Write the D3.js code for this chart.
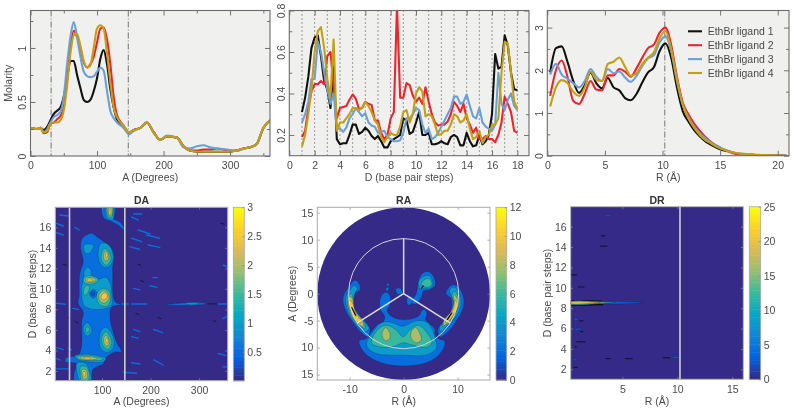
<!DOCTYPE html>
<html><head><meta charset="utf-8">
<script src="https://cdn.jsdelivr.net/npm/d3@7"></script>
<style>
html,body{margin:0;padding:0;background:#fff}
svg{display:block;filter:blur(0.5px)}
text{font-family:"Liberation Sans",Arial,sans-serif;fill:#4a4a4a}
</style></head><body>
<script>
// ---------- line profiles ----------
const seriesNames = ["EthBr ligand 1","EthBr ligand 2","EthBr ligand 3","EthBr ligand 4"];
const aGrid = [0,10,15,20,25,30,35,40,45,50,55,60,65,70,75,80,85,90,95,100,105,110,115,120,125,130,140,148,155,165,175,185,195,205,220,230,240,250,260,270,280,290,300,310,320,330,340,350,360];
const aBlack = [.26,.25,.26,.24,.27,.33,.39,.42,.45,.55,.72,.88,.88,.75,.63,.52,.5,.52,.6,.72,.9,.98,.85,.62,.45,.34,.27,.21,.24,.26,.31,.22,.15,.18,.17,.09,.05,.04,.04,.04,.04,.04,.04,.05,.07,.08,.11,.26,.33];
const aRed = [.26,.25,.26,.21,.22,.3,.31,.34,.37,.45,.7,1.0,1.16,1.1,1.0,.87,.82,.85,.92,1.05,1.18,1.19,1.08,.85,.55,.38,.28,.22,.24,.26,.31,.22,.15,.18,.17,.09,.05,.05,.06,.06,.07,.06,.05,.05,.07,.08,.11,.26,.33];
const aBlue = [.26,.25,.26,.22,.25,.31,.36,.38,.41,.55,.85,1.1,1.24,1.1,.92,.78,.74,.73,.74,.78,.82,.79,.6,.42,.35,.31,.26,.2,.23,.26,.31,.22,.15,.19,.17,.08,.07,.09,.1,.08,.07,.065,.055,.05,.065,.08,.11,.26,.33];
const aYellow = [.26,.25,.26,.22,.23,.3,.31,.31,.33,.42,.65,.95,1.12,1.13,1.02,.88,.82,.84,1.0,1.18,1.21,1.18,.95,.68,.45,.36,.28,.22,.24,.26,.31,.22,.15,.18,.17,.09,.05,.04,.04,.04,.04,.04,.04,.05,.07,.08,.11,.26,.33];

const dGrid = d3.range(1,18.01,0.25);
const dBlack = [.31,.38,.48,.62,.67,.68,.58,.46,.42,.33,.53,.18,.155,.16,.16,.2,.25,.25,.205,.215,.235,.22,.195,.18,.195,.17,.14,.14,.17,.18,.19,.2,.28,.27,.205,.215,.26,.31,.2,.2,.21,.155,.155,.16,.17,.16,.155,.19,.2,.19,.15,.15,.21,.17,.145,.15,.2,.155,.17,.2,.3,.59,.52,.53,.68,.63,.5,.42,.415];
const dRed = [.19,.22,.33,.41,.445,.445,.46,.445,.58,.6,.43,.28,.33,.335,.34,.37,.395,.375,.325,.33,.36,.35,.345,.27,.27,.21,.18,.2,.28,.31,.82,.38,.38,.45,.44,.39,.36,.38,.35,.43,.36,.3,.26,.245,.25,.25,.265,.3,.36,.34,.31,.35,.28,.25,.21,.235,.18,.18,.195,.18,.18,.165,.2,.26,.385,.35,.31,.22,.21];
const dBlue = [.26,.3,.36,.47,.47,.65,.6,.5,.42,.35,.4,.23,.23,.215,.235,.28,.3,.33,.31,.29,.305,.26,.245,.24,.21,.215,.22,.19,.18,.17,.17,.175,.21,.28,.28,.3,.33,.32,.25,.21,.23,.18,.19,.21,.24,.27,.3,.33,.385,.385,.35,.36,.395,.34,.29,.28,.33,.26,.24,.23,.22,.25,.5,.35,.32,.37,.4,.34,.32];
const dYellow = [.145,.2,.3,.42,.6,.7,.72,.62,.47,.38,.66,.22,.26,.26,.28,.3,.33,.33,.32,.33,.36,.34,.31,.27,.25,.19,.165,.19,.21,.2,.2,.24,.31,.32,.26,.3,.4,.43,.41,.29,.3,.29,.25,.2,.205,.22,.22,.25,.3,.29,.26,.27,.3,.23,.18,.19,.22,.16,.19,.2,.25,.25,.28,.5,.65,.64,.5,.36,.325];

const rGrid = d3.range(0.25,21,0.5);
const rBlack = [1.95,2.52,2.56,2.2,1.75,1.47,1.65,1.95,1.7,1.58,1.82,1.6,1.53,1.35,1.3,1.45,1.72,1.95,2.07,2.45,2.63,2.3,1.6,1.05,.8,.6,.45,.33,.25,.18,.13,.1,.06,.04,.03,.02,.015,.01,.01,.005,.005,0];
const rRed = [1.4,2.0,2.23,1.85,1.28,1.21,1.45,1.75,1.55,1.53,1.88,1.88,2.03,1.97,1.85,2.05,2.3,2.52,2.6,2.88,3.0,2.6,1.85,1.25,.97,.75,.58,.43,.31,.23,.15,.1,.05,.03,.025,.02,.015,.01,.01,.005,.005,0];
const rBlue = [1.9,2.15,1.9,1.8,1.7,1.6,1.75,2.03,1.85,1.75,2.03,1.93,1.97,1.83,1.73,1.87,2.1,2.28,2.35,2.65,2.8,2.45,1.75,1.2,.9,.68,.52,.4,.3,.22,.16,.11,.07,.05,.03,.02,.015,.01,.01,.005,.005,0];
const rYellow = [1.15,1.6,1.77,1.7,1.5,1.4,1.6,1.97,1.78,1.75,2.15,2.2,2.3,2.08,1.87,1.93,2.15,2.3,2.42,2.75,2.92,2.5,1.8,1.2,.87,.65,.48,.36,.28,.2,.15,.1,.07,.05,.04,.03,.02,.015,.01,.01,.005,.005];

const markerA = [31,147];
const markerR = [10.2];
const markerD = d3.range(1,19);
const lineColors = ["#111111","#e8262c","#6c9fd8","#c29f14"];

// ---------- DA map: contour outlines [A, D], lowest level first ----------
const daContours = [
 [0.5,[[78.8,15.42],[89,15.09],[106,14.54],[120,13.96],[125,13.14],[122,12.17],[122,11.36],[123,9.38],[128,8.7],[140,8.46],[120,8.24],[116.5,7.26],[120,6.29],[130,4.83],[140,3.85],[126.8,3.85],[106,3.2],[102.7,2.7],[82,2.2],[78.8,1.2],[78,.9],[44,.9],[44,2.07],[49,2.7],[23.7,2.9],[27,3.3],[51,3.53],[58,4.5],[58,6.78],[61.4,7.75],[51,8.56],[53,9.4],[53,10.87],[55,11.68],[61.4,12.65],[56,13.96],[59.4,14.93]]],
 [0.5,[[101,17.95],[127,17.95],[127,17.37],[125,16.8],[136,16.55],[145,16],[145,15.74],[133.6,16.2],[120,16.55],[106,16.8],[100,17.3]]],
 [0.5,[[229.8,8.46],[274.4,8.65],[291.6,8.72],[315.6,8.56],[288,8.4],[253.8,8.4]]],
 [1,[[271,8.6],[288,8.65],[302,8.56],[288,8.46],[274.4,8.5]]],
 [1,[[48,2.74],[65,2.8],[75,1.93],[77,1.12],[55,1.05],[48,1.93]]],
 [1,[[44,3.46],[68,3.65],[96,3.46],[108,3.23],[103,2.9],[75,2.87],[51,3.07]]],
 [1,[[108,6.25],[118,5.83],[125,4.85],[122,4.2],[111,3.81],[97,4.2],[94.5,5.18],[99,5.99]]],
 [1,[[70,6.7],[77,6.3],[79,5.83],[70,5.4],[62,5.83],[62,6.38]]],
 [1,[[70,12.1],[77,11.84],[79,11.26],[92,10.93],[108,11.13],[117,10.54],[120,9.57],[120,8.43],[108,8.1],[85.5,8],[65,8.27],[60,8.75],[58,10.2],[63,11.03],[63,11.68]]],
 [0.5,[[82,9.95],[90,9.57],[83,9.08],[74,9.5]]],
 [0.25,[[81,9.73],[86,9.53],[81,9.3],[76.5,9.53]]],
 [1,[[98,14.44],[111,14.38],[120,13.79],[123,12.98],[116,12.23],[104,12.1],[94.5,12.65],[92,13.63]]],
 [1,[[63,14.28],[82,14.28],[81,13.95],[74,13.47],[65,13.53]]],
 [1,[[108,17.95],[123,17.95],[125,17.2],[120.5,16.7],[111,16.85],[107,17.4]]],
 [1.5,[[56,2.42],[67,2.42],[74,1.7],[70,1.05],[58,1.05],[55,1.77]]],
 [1.5,[[48,3.39],[72,3.52],[96,3.32],[103,3.13],[75,3],[51,3.16]]],
 [1.5,[[108,5.83],[116,5.34],[120,4.69],[113,4.1],[103,4.37],[99,5.18]]],
 [1.5,[[70,6.3],[74,6.05],[70,5.73],[66,5.99]]],
 [1.5,[[63,11.13],[79,11.26],[92,10.93],[85.5,10.54],[70,10.47],[62,10.7]]],
 [1.5,[[70,10.38],[74,10.15],[70,9.57],[63,9.4],[62,9.89]]],
 [1.5,[[104,10.05],[115,9.73],[118,9.08],[111,8.33],[96,8.43],[89,9.08],[92,9.73]]],
 [1.5,[[106,13.95],[116,13.47],[118,12.82],[108,12.3],[99,12.82],[100,13.63]]],
 [1.5,[[110,17.95],[122,17.95],[122,17.3],[118,16.88],[111.6,17.1]]],
 [2,[[59,2.15],[67,2.09],[70,1.44],[63,1.18],[58,1.7]]],
 [2,[[55,3.32],[75,3.39],[92,3.23],[75,3.07],[58,3.16]]],
 [2,[[108,5.5],[114,5.02],[114,4.53],[107.5,4.46],[103,5.02]]],
 [2,[[67,11.03],[79,11.09],[88,10.87],[79,10.64],[67,10.7]]],
 [2,[[104,9.83],[113,9.5],[114,8.98],[104,8.59],[94.5,8.92],[94.5,9.5]]],
 [2,[[108,13.73],[114,13.3],[112,12.82],[106,12.75],[103,13.3]]],
 [2,[[113,17.85],[120.5,17.85],[120,17.2],[115,17.1]]],
 [2.5,[[61,1.93],[65,1.93],[66,1.5],[63,1.44]]],
 [2.5,[[61,3.29],[75,3.29],[76.5,3.16],[63,3.2]]],
 [2.5,[[109.5,5.24],[113,4.92],[111,4.69],[107,4.95]]],
 [2.5,[[70,10.93],[79,10.93],[82,10.8],[70,10.77]]],
 [2.5,[[106,9.63],[111,9.4],[108,8.98],[99,8.98],[99,9.4]]],
 [2.5,[[109,13.56],[112,13.3],[109.5,13.04],[107,13.3]]],
 [2.5,[[115,17.7],[118,17.7],[118,17.3],[115,17.2]]]
];
// short diagonal streaks [A1, D1, A2, D2]
const daStreaks = [[175,15.74,199,15.35],[192,15.25,218,14.93],[161,14.93,182,14.6],[158,14.1,177,13.86],[195,14.28,219,14.05],[13,17.2,30.5,17.1],[5,16.4,20,16.13],[5,15.5,20,15.25],[44,16,53,15.74],[161,17,175,16.7],[165,17.3,182,17.3],[164.5,10.05,178,9.9],[199,10.3,213,10.15],[6.5,8.6,24,8.5],[39.5,8.1,51,8],[140.5,8.53,154,8.53],[161,8.53,192,8.53],[340,8.53,357,8.53],[3,4.3,20,4.1],[5,3.23,13,3.07],[30.5,4.2,37.4,4.05],[164.5,6.05,178,5.83],[206,6.05,225,5.73],[161,5.34,175,5.18],[161,2.8,178,2.68],[207,3.07,226,2.58],[144,1.87,171,1.77],[5,2.2,30.5,2.2],[340,3.7,355,3.5],[349,2.4,357,2.4],[349,7.1,357,7.3],[350,12.3,357,12.2],[205,11.1,214,11.1]];
const daSpecks = [[318,8.53,335,8.53],[180,10.8,186,10.7],[170,7.6,176,7.5],[215,7.2,221,7.1],[20,12.4,26,12.3],[30,7.2,35,7.1],[45,6.8,50,6.7],[175,12.4,180,12.3],[345,16.4,352,16.3],[330,6.9,335,6.8]];
const daLines = [33,147];

// ---------- RA map: contour outlines [R, A] ----------
const raContours = [
 [2,[[-8.24,-8.73],[-6.89,-8.3],[-5.97,-7.07],[-4.74,-5.66],[-3.81,-5.23],[-3.51,-4.18],[-4.24,-3.08],[-4.43,-1.54],[-3.94,-.12],[-3.08,.25],[-2.46,-.62],[-2.58,-2.15],[-3.08,-3.08],[-2.28,-4.18],[-.43,-4.8],[1.72,-4.61],[2.95,-4],[3.26,-3.2],[3.87,-2.95],[4.3,-3.69],[4.06,-4.8],[4.67,-5.54],[5.72,-6.46],[5.84,-7.69],[6.64,-8.43],[7.56,-8.73],[7.56,-9.72],[6.33,-11.56],[3.87,-12.9],[-.12,-13.4],[-3.81,-12.9],[-6.58,-11.56],[-8,-9.84]]],
 [2,[[-9.96,1.54],[-9.04,2.46],[-8.24,1.85],[-8.12,.62],[-9.35,0],[-9.35,-2.15],[-8.61,-4],[-7.2,-5.23],[-6.27,-6.46],[-6.58,-8],[-7.81,-7.26],[-9.66,-4.92],[-10.89,-2.77],[-11.19,-.62]]],
 [2,[[8.18,.92],[9.1,1.66],[10.15,1.23],[11.07,-.62],[11.07,-2.46],[10.02,-4.61],[8.49,-6.77],[6.77,-8],[6.33,-6.77],[6.77,-5.84],[7.87,-4.61],[8.79,-3.08],[8.79,-.92],[7.87,0]]],
 [2,[[3.44,3.69],[4.49,4.12],[5.54,3.2],[5.84,1.54],[4.8,.74],[3.69,.49],[3.26,-.74],[2.03,-1.97],[1.41,-1.54],[2.34,0],[2.64,1.85],[2.95,2.95]]],
 [2,[[-3.2,1.8],[-2.7,1.9],[-2.9,1.3]]],
 [2,[[-3.4,1],[-2.7,1.1],[-3,.4]]],
 [2,[[-1.48,.86],[-.62,.98],[-.25,.12],[-1.05,-.12]]],
 [2,[[.62,-.92],[1.41,-.49],[1.6,-1.54],[.8,-2.15]]],
 [4,[[3.69,3.2],[4.67,3.38],[5.41,2.15],[5.1,1.11],[3.87,.92],[2.95,.92],[2.83,2.46]]],
 [4,[[-6.89,-9.35],[-5.66,-7.07],[-4.12,-5.41],[-2.58,-5.23],[-.12,-6.03],[2.34,-5.04],[4.49,-5.41],[5.84,-8.3],[6.03,-10.15],[4.18,-11.38],[-.12,-11.38],[-4.43,-11.25],[-6.27,-10.45]]],
 [4,[[-9.96,.62],[-9.16,1.54],[-8.61,.92],[-9.04,0],[-9.23,-2.15],[-8.43,-3.81],[-7.01,-5.41],[-6.4,-6.46],[-7.2,-7.07],[-8.43,-6.15],[-9.66,-4.61],[-10.58,-2.46],[-10.7,-.62]]],
 [4,[[8.49,.62],[9.23,1.23],[10.02,.62],[10.64,-1.23],[10.45,-2.77],[9.41,-4.61],[7.87,-6.15],[6.95,-7.07],[6.64,-6.27],[7.87,-5.04],[8.98,-3.38],[9.23,-1.54],[8.79,-.31]]],
 [6,[[3.87,2.58],[4.67,2.77],[5.23,1.85],[4.67,1.23],[3.69,1.35],[3.26,1.85]]],
 [6,[[-5.97,-9.1],[-4.74,-6.64],[-3.2,-5.84],[-1.35,-6.77],[-.12,-8],[1.11,-6.77],[2.64,-5.84],[4.18,-7.07],[5.23,-9.1],[4.18,-9.96],[1.72,-9.53],[-.12,-9.1],[-1.97,-9.84],[-4.43,-9.84]]],
 [6,[[-9.66,0],[-9.35,-.92],[-9.04,-3.38],[-7.2,-5.54],[-7.2,-6.46],[-8.12,-5.84],[-9.47,-4],[-10.27,-2.46],[-10.27,-.62]]],
 [6,[[8.98,0],[9.59,.31],[10.21,-1.23],[10.09,-2.58],[8.79,-4.61],[7.26,-6.15],[7.26,-5.41],[8.79,-3.69],[9.29,-1.85]]],
 [8,[[-3.32,-6.27],[-2.58,-7.26],[-2.58,-8.3],[-3.32,-8.73],[-3.94,-8],[-3.94,-7.07]]],
 [8,[[2.21,-6.27],[2.95,-7.26],[3.26,-8.61],[2.34,-9.1],[1.41,-8.3],[1.41,-7.07]]],
 [8,[[-10.3,-.7],[-9.6,-.7],[-9.1,-3],[-7.5,-5.2],[-7.5,-6.1],[-8.9,-5.2],[-10.1,-2.9]]],
 [8,[[9.3,-.1],[10,-1.1],[9.95,-2.6],[8.7,-4.8],[7.5,-5.9],[7.4,-5],[8.8,-3.3],[9.3,-1.8]]],
 [10,[[-10.15,-1.2],[-9.55,-1.6],[-8.8,-3.8],[-7.8,-5.2],[-8.3,-5.4],[-9.2,-4.4],[-9.95,-2.7]]],
 [10,[[9.5,-1.2],[10,-2.1],[9.3,-3.8],[8.3,-5.1],[7.7,-5.3],[8.9,-3.5],[9.35,-2.3]]]
];
const raDarkMarks = [[-9.6,-2.6,-8.9,-4],[8.9,-3.6,8.1,-4.8],[3.6,1.4,3.3,1]];
const raCircleRadius = 10.2;
const raSpokes = [[0,10.2],[-8.6,-5.4],[8.6,-5.4]];
const raDiskRadius = 16;

// ---------- DR map ----------
const drContours = [
 [2.5,[[9.3,3.1],[10,3.25],[10.6,3.3],[10.1,3.08]]],
 [2.5,[[.55,2.95],[.75,3],[.9,2.9],[.7,2.85]]],
 [2.5,[[.55,6.92],[.8,7],[1,6.88],[.75,6.8]]],
 [2.5,[[.7,5.9],[1.1,6.05],[1.35,6.05],[1.1,5.9],[.75,5.8]]],
 [2.5,[[3.4,17.1],[3.7,17.17],[3.95,17.1],[3.7,17.04]]],
 [1.5,[[1,10.08],[1.3,10.13],[1.55,10.08],[1.3,10.02]]]
];
const drDarkBand = [[.3,8.8],[1.6,8.8],[3.2,8.74],[3.4,8.52],[3.2,8.3],[1.6,8.25],[.3,8.25]];
const drSpindle = [
 [2.5,[[.3,8.66],[3,8.68],[5,8.66],[6.9,8.56],[5,8.42],[3,8.4],[.3,8.4]]],
 [10,[[.3,8.64],[3,8.64],[4.4,8.58],[3,8.46],[.3,8.42]]],
 [15,[[.3,8.62],[3,8.6],[3.6,8.54],[3,8.48],[.3,8.44]]],
 [20,[[.3,8.58],[2.6,8.57],[3,8.53],[2.6,8.5],[.3,8.47]]]
];
const drSpecks = [[3.1,15.1,3.4,15.1],[3,14.1,3.6,14.1],[.3,11.26,.85,11.26],[1,10.08,1.5,10.08],[1.1,6.75,1.4,6.75],[1.2,5.7,1.4,5.7],[.85,4.7,1.6,4.7],[.7,4.2,.8,4.2],[.6,2.2,.9,2.2],[3.5,3.05,3.9,3.05],[5.3,3.05,5.9,3.05],[8.7,3.15,9.3,3.12]];
const drLines = [10.24];

const parulaStops = ["#352a87","#0363e1","#1485d4","#06a7c6","#38b99e","#92bf73","#d9ba56","#fcce2e","#f9fb0e"];
const parula = d3.scaleLinear().domain(d3.range(9).map(i=>i/8)).range(parulaStops).clamp(true);

const W=798,H=411;
const svg=d3.select("body").append("svg").attr("width",W).attr("height",H);
svg.append("rect").attr("width",W).attr("height",H).attr("fill","#fff");
const defs=svg.append("defs");
let clipId=0;
const FS=10.5, GREY="#4a4a4a";

function linePanel(o){
  const x=d3.scaleLinear().domain(o.xd).range([o.l,o.r]);
  const y=d3.scaleLinear().domain(o.yd).range([o.b,o.t]);
  const id="c"+(clipId++);
  defs.append("clipPath").attr("id",id).append("rect").attr("x",o.l).attr("y",o.t).attr("width",o.r-o.l).attr("height",o.b-o.t);
  const g=svg.append("g");
  g.append("rect").attr("x",o.l).attr("y",o.t).attr("width",o.r-o.l).attr("height",o.b-o.t).attr("fill","#f0f0ef");
  const vis=g.append("g").attr("clip-path",`url(#${id})`);
  (o.markers||[]).forEach(m=>vis.append("line").attr("x1",x(m)).attr("x2",x(m)).attr("y1",o.t).attr("y2",o.b)
     .attr("stroke",o.markerColor||"#666").attr("stroke-width",o.markerWidth||.9).attr("stroke-dasharray",o.dash));
  const ln=d3.line().x((d,i)=>x(o.grid[i])).y(d=>y(d)).curve(o.curve);
  o.series.forEach((s,i)=>vis.append("path").attr("d",ln(s)).attr("fill","none").attr("stroke",lineColors[i]).attr("stroke-width",2.1).attr("stroke-linejoin","round"));
  const ax=(gen,tr,vals,len,lab)=>{
    const a=g.append("g").attr("transform",tr).call(gen.tickValues(vals).tickSize(len).tickFormat(lab?d3.format("~g"):""));
    a.select(".domain").remove();
    a.selectAll("line").attr("stroke","#666").attr("stroke-width",.9);
    return a;
  };
  const xa=ax(d3.axisBottom(x),`translate(0,${o.b})`,o.xMajor,-5,true);
  xa.selectAll("text").attr("font-size",FS).attr("y",6).attr("dy","0.71em").style("fill",GREY);
  ax(d3.axisTop(x),`translate(0,${o.t})`,o.xMajor,-5,false);
  if(o.xMinor){ax(d3.axisBottom(x),`translate(0,${o.b})`,o.xMinor,-3,false);ax(d3.axisTop(x),`translate(0,${o.t})`,o.xMinor,-3,false);}
  const ya=ax(d3.axisLeft(y),`translate(${o.l},0)`,o.yMajor,-5,true);
  ya.selectAll("text").attr("font-size",FS).attr("text-anchor","middle").attr("x",0).attr("dy",0)
    .attr("transform",`translate(${-o.yLabOff},0) rotate(-90)`).style("fill",GREY);
  ax(d3.axisRight(y),`translate(${o.r},0)`,o.yMajor,-5,false);
  if(o.yMinor){ax(d3.axisLeft(y),`translate(${o.l},0)`,o.yMinor,-3,false);ax(d3.axisRight(y),`translate(${o.r},0)`,o.yMinor,-3,false);}
  g.append("rect").attr("x",o.l).attr("y",o.t).attr("width",o.r-o.l).attr("height",o.b-o.t).attr("fill","none").attr("stroke","#6b6b6b").attr("stroke-width",1.1);
  g.append("text").attr("x",(o.l+o.r)/2).attr("y",181).attr("text-anchor","middle").attr("font-size",FS).text(o.xLabel);
  if(o.yLabel) g.append("text").attr("transform",`translate(${o.yLabX},${(o.t+o.b)/2}) rotate(-90)`).attr("text-anchor","middle").attr("font-size",FS).text(o.yLabel);
  return {x,y,g};
}

linePanel({l:30.5,r:270,t:10.5,b:156,xd:[0,360],yd:[0,1.347],grid:aGrid,series:[aBlack,aRed,aBlue,aYellow],curve:d3.curveMonotoneX,
  markers:markerA,dash:"6 2 1 2",xMajor:[0,100,200,300],xMinor:[50,150,250,350],yMajor:[0,.5,1],yMinor:[.25,.75,1.25],
  yLabOff:4.5,xLabel:"A (Degrees)",yLabel:"Molarity",yLabX:12});
linePanel({l:289.3,r:529,t:10.5,b:155.7,xd:[0,18.92],yd:[.1,.8],grid:dGrid,series:[dBlack,dRed,dBlue,dYellow],curve:d3.curveLinear,
  markers:markerD,markerColor:"#444",markerWidth:1,dash:"1 3",xMajor:d3.range(0,19,2),yMajor:[.2,.4,.6,.8],yMinor:[.3,.5,.7],
  yLabOff:4,xLabel:"D (base pair steps)"});
const p3=linePanel({l:547.3,r:789,t:10.5,b:155.7,xd:[0,20.98],yd:[0,3.4],grid:rGrid,series:[rBlack,rRed,rBlue,rYellow],curve:d3.curveMonotoneX,
  markers:markerR,dash:"6 2 1 2",xMajor:[0,5,10,15,20],yMajor:[0,1,2,3],yMinor:[.5,1.5,2.5],
  yLabOff:4,xLabel:"R (Å)"});
const legX=d3.scaleLinear().domain([0,1]).range([688,702]);
seriesNames.forEach((n,i)=>{
  const yy=31.3+i*13.9;
  p3.g.append("line").attr("x1",legX(0)).attr("x2",legX(1)).attr("y1",yy).attr("y2",yy).attr("stroke",lineColors[i]).attr("stroke-width",2.1);
  p3.g.append("text").attr("x",707.7).attr("y",yy+3.7).attr("font-size",FS).text(n);
});

function mapPanel(o){
  const x=d3.scaleLinear().domain(o.xd).range([o.l,o.r]);
  const y=d3.scaleLinear().domain(o.yd).range([o.b,o.t]);
  const id="c"+(clipId++);
  defs.append("clipPath").attr("id",id).append("rect").attr("x",o.l).attr("y",o.t).attr("width",o.r-o.l).attr("height",o.b-o.t);
  const g=svg.append("g");
  const base=g.append("g").attr("clip-path",`url(#${id})`);
  if(o.disk!==undefined){
    base.append("ellipse").attr("cx",x(0)).attr("cy",y(0)).attr("rx",x(o.disk)-x(0)).attr("ry",y(0)-y(o.disk)).attr("fill",parula(0));
  } else {
    base.append("rect").attr("x",o.l).attr("y",o.t).attr("width",o.r-o.l).attr("height",o.b-o.t).attr("fill",parula(0));
  }
  const col=v=>parula(v/o.max);
  const curve=d3.line().x(d=>x(d[0])).y(d=>y(d[1])).curve(d3.curveCatmullRomClosed.alpha(.5));
  const drawC=list=>list.forEach(([lev,pts])=>base.append("path").attr("d",curve(pts)).attr("fill",col(lev)).attr("stroke","#1c2340").attr("stroke-width",.45).attr("stroke-opacity",.6));
  const streak=(list,c,w)=>list.forEach(s=>base.append("line").attr("x1",x(s[0])).attr("y1",y(s[1])).attr("x2",x(s[2])).attr("y2",y(s[3])).attr("stroke",c).attr("stroke-width",w).attr("stroke-linecap","round"));
  o.draw({base,x,y,col,drawC,streak,curve});
  const tick=(gen,tr,vals,f)=>{
    const a=g.append("g").attr("transform",tr).call(gen.tickValues(vals).tickSize(-2.5).tickFormat(f));
    a.select(".domain").remove();
    a.selectAll("line").attr("stroke","#888").attr("stroke-width",.7);
    a.selectAll("text").attr("font-size",FS).style("fill",GREY);
    return a;
  };
  const plain=d=>String(d);
  tick(d3.axisBottom(x),`translate(0,${o.b})`,o.xt,plain).selectAll("text").attr("y",6).attr("dy","0.71em");
  tick(d3.axisLeft(y),`translate(${o.l},0)`,o.yt,o.yf||plain).selectAll("text").attr("x",-4);
  tick(d3.axisTop(x),`translate(0,${o.t})`,o.xt,"");
  tick(d3.axisRight(y),`translate(${o.r},0)`,o.yt,"");
  g.append("rect").attr("x",o.l).attr("y",o.t).attr("width",o.r-o.l).attr("height",o.b-o.t).attr("fill","none").attr("stroke","#aaa").attr("stroke-width",1);
  g.append("text").attr("x",(o.l+o.r)/2).attr("y",204).attr("text-anchor","middle").attr("font-size",10.5).attr("font-weight","bold").style("fill","#333").text(o.title);
  g.append("text").attr("x",(o.l+o.r)/2).attr("y",405).attr("text-anchor","middle").attr("font-size",FS).text(o.xLabel);
  g.append("text").attr("transform",`translate(${o.yLabX},${(o.t+o.b)/2}) rotate(-90)`).attr("text-anchor","middle").attr("font-size",FS).text(o.yLabel);
  const cy=d3.scaleLinear().domain([0,o.max]).range([o.b,o.t]);
  const n=64;
  const cb=g.append("g");
  d3.range(n).forEach(i=>{
    cb.append("rect").attr("x",o.cl).attr("width",o.cr-o.cl)
      .attr("y",cy((i+1)*o.max/n)).attr("height",Math.abs(cy(i*o.max/n)-cy((i+1)*o.max/n))+.5)
      .attr("fill",parula(i/(n-1)));
  });
  const ca=g.append("g").attr("transform",`translate(${o.cr},0)`).call(d3.axisRight(cy).tickValues(o.ct).tickSize(-2).tickFormat(d3.format("~g")));
  ca.select(".domain").remove();
  ca.selectAll("line").attr("stroke","#888").attr("stroke-width",.7);
  ca.selectAll("text").attr("font-size",FS).attr("x",3).style("fill",GREY);
  cb.append("rect").attr("x",o.cl).attr("y",o.t).attr("width",o.cr-o.cl).attr("height",o.b-o.t).attr("fill","none").attr("stroke","#aaa").attr("stroke-width",.8);
}

mapPanel({l:55.3,r:227.7,t:207.3,b:380.7,xd:[3.7,359],yd:[1.05,17.95],max:3,cl:233.3,cr:244.3,
  xt:[100,200,300],yt:[2,4,6,8,10,12,14,16],ct:[.5,1,1.5,2,2.5,3],title:"DA",xLabel:"A (Degrees)",yLabel:"D (base pair steps)",yLabX:36,
  draw:({base,x,y,drawC,streak,col})=>{
    streak(daStreaks,col(.5),1.4);
    drawC(daContours);
    streak(daSpecks,"#12142e",.9);
    daLines.forEach(v=>base.append("line").attr("x1",x(v)).attr("x2",x(v)).attr("y1",y(1.05)).attr("y2",y(17.95)).attr("stroke","#cfcfcf").attr("stroke-width",1.6));
  }});

mapPanel({l:317.3,r:490,t:207.3,b:380,xd:[-16,16],yd:[-16,16],max:12,cl:496,cr:506.7,disk:raDiskRadius,
  xt:[-10,0,10],yt:[-15,-10,-5,0,5,10,15],yf:d=>d===-10?"10":d===-15?"15":String(d),ct:[0,2,4,6,8,10,12],title:"RA",xLabel:"R (Å)",yLabel:"A (Degrees)",yLabX:296,
  draw:({base,x,y,drawC,streak})=>{
    drawC(raContours);
    streak(raDarkMarks,"#141428",1.3);
    base.append("ellipse").attr("cx",x(0)).attr("cy",y(0)).attr("rx",x(raCircleRadius)-x(0)).attr("ry",y(0)-y(raCircleRadius)).attr("fill","none").attr("stroke","#d4d4d4").attr("stroke-width",1);
    raSpokes.forEach(s=>base.append("line").attr("x1",x(0)).attr("y1",y(0)).attr("x2",x(s[0])).attr("y2",y(s[1])).attr("stroke","#dcdcdc").attr("stroke-width",1.5));
  }});

mapPanel({l:570.7,r:743.3,t:206.7,b:379.3,xd:[.3,16],yd:[1.02,17.96],max:25,cl:749.3,cr:760.7,
  xt:[5,10,15],yt:[2,4,6,8,10,12,14,16],ct:[0,5,10,15,20,25],title:"DR",xLabel:"R (Å)",yLabel:"D (base pair steps)",yLabX:551,
  draw:({base,x,y,drawC,streak})=>{
    base.append("path").attr("d",d3.line().x(d=>x(d[0])).y(d=>y(d[1]))(drDarkBand)+"Z").attr("fill","#0c0c14");
    drawC(drSpindle);
    drawC(drContours);
    streak(drSpecks,"#15163a",1.2);
    drLines.forEach(v=>base.append("line").attr("x1",x(v)).attr("x2",x(v)).attr("y1",y(1.02)).attr("y2",y(17.96)).attr("stroke","#cfcfcf").attr("stroke-width",1.6));
  }});
</script>
</body></html>
